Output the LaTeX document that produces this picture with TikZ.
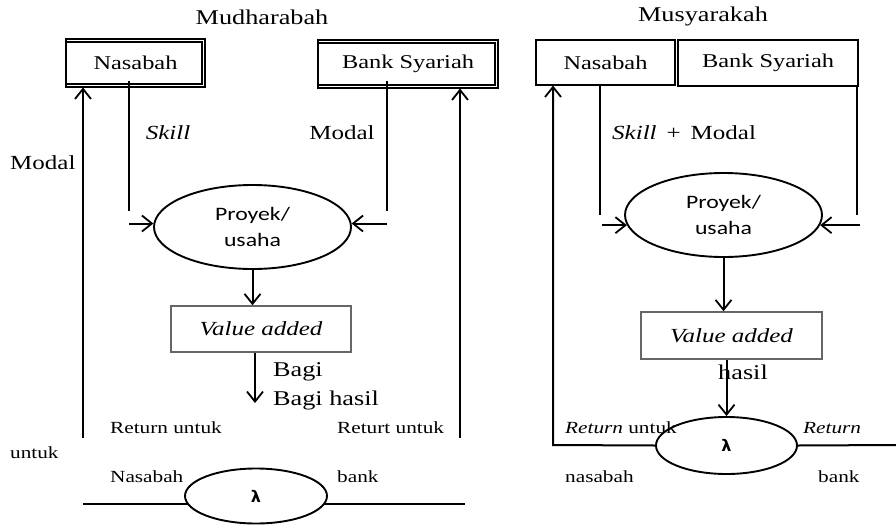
\documentclass[tikz,border=0pt]{standalone}
\usepackage{fontspec}
\setmainfont{Liberation Serif}[FakeStretch=1.25]
\newfontfamily\proyekfont{Carlito}[FakeStretch=1.25]
\newfontfamily\lamfont{DejaVu Sans}
\usetikzlibrary{arrows.meta,shapes.geometric}

\tikzset{
  txt/.style={inner sep=0pt, font=\fontsize{20}{24}\selectfont},
  ttl/.style={inner sep=0pt, font=\fontsize{21}{25}\selectfont},
  big/.style={inner sep=0pt, font=\fontsize{21}{25}\selectfont},
  sml/.style={inner sep=0pt, font=\fontsize{17}{20}\selectfont},
  party/.style={draw, line width=1.1pt, inner sep=0pt, font=\fontsize{19.5}{23}\selectfont},
  inner/.style={line width=1.1pt},
  proj/.style={ellipse, draw, line width=1.9pt, inner sep=0pt, align=center,
               font=\proyekfont\fontsize{19}{26}\selectfont},
  valbox/.style={draw=black!60, line width=1.5pt, inner sep=0pt,
                 font=\fontsize{20}{24}\selectfont\itshape},
  lam/.style={ellipse, draw, fill=white, line width=1.9pt, inner sep=0pt,
              font=\lamfont\bfseries\fontsize{16}{18}\selectfont},
  flow/.style={line width=2pt},
  arr/.style={line width=2pt, -{Straight Barb[length=10pt,width=16pt,line width=1.8pt]}},
}

\begin{document}
\begin{tikzpicture}[x=1pt,y=-1pt]
\useasboundingbox (0,0) rectangle (896,525);

% ---------------- Mudharabah ----------------
\node[ttl] (tM) at (262,17) {Mudharabah};

\node[party, minimum width=139pt, minimum height=48pt] (nasL) at (135.5,63) {Nasabah};
\draw[inner] (66,42) -| (202,84) -- (66,84);
\node[party, minimum width=180pt, minimum height=48pt] (bankL) at (408,64) {Bank Syariah};
\draw[inner] (318,43) -| (495,85) -- (318,85);

\node[proj, minimum width=197pt, minimum height=84pt] (prL) at (252.5,227) {Proyek/\\usaha};
\node[valbox, minimum width=180pt, minimum height=46pt] (vaL) at (261,329) {Value added};

% capital coming in from both sides
\coordinate (skTopL) at (129,81);
\coordinate (skBotL) at (129,211);
\draw[flow] (skTopL) -- (skBotL);
\draw[arr] (skBotL |- prL.178) -- (prL.178);
\coordinate (moTopL) at (387,81);
\coordinate (moBotL) at (387,211);
\draw[flow] (moTopL) -- (moBotL);
\draw[arr] (moBotL |- prL.2) -- (prL.2);

\node[txt] (skillL) at (168,133) {\itshape Skill};
\node[txt] (modalL) at (342,133) {Modal};
\node[txt, anchor=west] (modalOut) at (10,163) {Modal};

% project result
\draw[arr] (prL.south) -- (prL.south |- vaL.north);
\coordinate (bagiEnd) at (255,403);
\draw[arr] (vaL.south -| bagiEnd) -- (bagiEnd);
\node[big, anchor=west] (bagi) at (273,372) {Bagi};
\node[big, anchor=west] (bagiH) at (273,400) {Bagi hasil};

% returns
\coordinate (retNL) at (83,438);
\coordinate (retBL) at (460,438);
\draw[arr] (retNL) -- (retNL |- nasL.south);
\draw[arr] (retBL) -- (retBL |- bankL.south);

\node[sml, anchor=west] (rt1) at (110,428) {Return untuk};
\node[sml, anchor=west] (rt2) at (337,428) {Returt untuk};
\node[sml, anchor=west] (ut) at (10,453) {untuk};
\node[sml, anchor=west] (nsb) at (110,477) {Nasabah};
\node[sml, anchor=west] (bnk) at (337,477) {bank};

\coordinate (baseA) at (83,504);
\coordinate (baseB) at (465,504);
\draw[line width=1.3pt] (baseA) -- (baseB);
\node[lam, minimum width=142pt, minimum height=55pt] (lamL) at (256,496) {λ};

% ---------------- Musyarakah ----------------
\node[ttl] (tS) at (703,16) {Musyarakah};

\node[party, minimum width=139pt, minimum height=45pt] (nasR) at (605.5,62.5) {Nasabah};
\node[party, minimum width=180pt, minimum height=46pt] (bankR) at (768,63) {Bank Syariah};

\node[proj, minimum width=197pt, minimum height=84pt] (prR) at (723.5,215) {Proyek/\\usaha};
\node[valbox, minimum width=181pt, minimum height=47pt] (vaR) at (731.5,335.5) {Value added};
\node[lam, minimum width=141pt, minimum height=57pt] (lamR) at (726.5,445.5) {λ};

\coordinate (skTopR) at (600,85);
\coordinate (skBotR) at (600,215);
\draw[flow] (skTopR) -- (skBotR);
\coordinate (skArrR) at (602,225);
\draw[arr] (skArrR |- prR.186) -- (prR.186);
\coordinate (moTopR) at (857,86);
\coordinate (moBotR) at (857,215);
\draw[flow] (moTopR) -- (moBotR);
\coordinate (moArrR) at (860,225);
\draw[arr] (moArrR |- prR.354) -- (prR.354);

\node[txt, anchor=west] (skmo) at (612,133) {\itshape Skill\upshape\hspace{10pt}+\hspace{10pt}Modal};

\draw[arr] (prR.south) -- (prR.south |- vaR.north);
\draw[arr] (vaR.south -| lamR.north) -- (lamR.north);
\node[big] (hasil) at (743,372) {hasil};

\coordinate (cornerR) at (553,445);
\coordinate (edgeR) at (896,445);
\draw[arr] (lamR.west) -- (cornerR) -- (cornerR |- nasR.south);
\draw[line width=2pt] (lamR.east) -- (edgeR);

\node[sml, anchor=west] (rt3) at (565,428) {\itshape Return\upshape{} untuk};
\node[sml, anchor=west] (rt4) at (803,428) {\itshape Return};
\node[sml, anchor=west] (nsb2) at (565,477) {nasabah};
\node[sml, anchor=west] (bnk2) at (818,477) {bank};
\end{tikzpicture}
\end{document}
